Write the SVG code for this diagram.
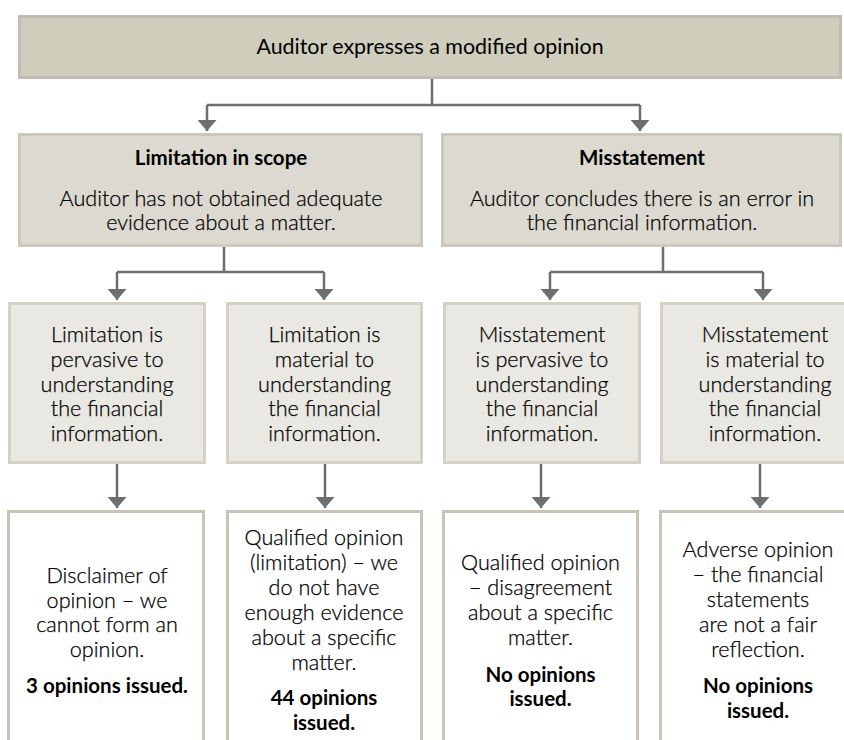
<svg xmlns="http://www.w3.org/2000/svg" width="844" height="740" viewBox="0 0 844 740">
<defs>
<marker id="ah" markerWidth="19" markerHeight="11" refX="9.5" refY="11" orient="0" markerUnits="userSpaceOnUse" viewBox="0 0 19 11">
<path d="M0,0 L19,0 L9.5,11 Z" fill="#6d6e71"/>
</marker>
<style>
.t{font-family:Lato,"Open Sans","Liberation Sans",sans-serif;font-size:21.6px;font-weight:300;fill:#000000;stroke:#000000;stroke-width:0.25;text-anchor:middle}
.b{font-weight:700;font-size:20.5px;stroke:none}
.h{font-weight:400;font-size:21.4px;stroke:none}
.top{fill:#cfcdbc;stroke:#c4bcb2;stroke-width:3}
.l2{fill:#dcdad0;stroke:#cec7bc;stroke-width:3}
.l3{fill:#e9e8e2;stroke:#d7d0c6;stroke-width:3}
.l4{fill:#ffffff;stroke:#cac2b7;stroke-width:3}
.c{fill:none;stroke:#6d6e71;stroke-width:2.5}
</style>
</defs>
<rect width="844" height="740" fill="#ffffff"/>
<g id="connectors">
<path class="c" d="M432,79 V105 M207,105 H640"/>
<path class="c" d="M207,105 V131" marker-end="url(#ah)"/>
<path class="c" d="M640,105 V131" marker-end="url(#ah)"/>
<path class="c" d="M224,247 V272 M117,272 H324"/>
<path class="c" d="M117,272 V300" marker-end="url(#ah)"/>
<path class="c" d="M324,272 V300" marker-end="url(#ah)"/>
<path class="c" d="M663,247 V272 M550,272 H763"/>
<path class="c" d="M550,272 V300" marker-end="url(#ah)"/>
<path class="c" d="M763,272 V300" marker-end="url(#ah)"/>
<path class="c" d="M117,464 V508" marker-end="url(#ah)"/>
<path class="c" d="M325,464 V508" marker-end="url(#ah)"/>
<path class="c" d="M541,464 V508" marker-end="url(#ah)"/>
<path class="c" d="M760,464 V508" marker-end="url(#ah)"/>
</g>
<g id="n-modified">
<rect class="top" x="19.5" y="16.5" width="821" height="61"/>
<text class="t h" x="430" y="54">Auditor expresses a modified opinion</text>
</g>
<g id="n-limitation">
<rect class="l2" x="19.5" y="134.5" width="402" height="111"/>
<text class="t b" x="221" y="165">Limitation in scope</text>
<text class="t" x="221" y="206">Auditor has not obtained adequate</text>
<text class="t" x="221" y="230">evidence about a matter.</text>
</g>
<g id="n-misstatement">
<rect class="l2" x="442.5" y="134.5" width="398" height="111"/>
<text class="t b" x="642" y="165">Misstatement</text>
<text class="t" x="642" y="206">Auditor concludes there is an error in</text>
<text class="t" x="642" y="230">the financial information.</text>
</g>
<g id="n-lim-pervasive">
<rect class="l3" x="9.5" y="303.5" width="195" height="159"/>
<text class="t" x="107" y="342">Limitation is</text>
<text class="t" x="107" y="367">pervasive to</text>
<text class="t" x="107" y="392">understanding</text>
<text class="t" x="107" y="416">the financial</text>
<text class="t" x="107" y="441">information.</text>
</g>
<g id="n-lim-material">
<rect class="l3" x="227.5" y="303.5" width="194" height="159"/>
<text class="t" x="324.5" y="342">Limitation is</text>
<text class="t" x="324.5" y="367">material to</text>
<text class="t" x="324.5" y="392">understanding</text>
<text class="t" x="324.5" y="416">the financial</text>
<text class="t" x="324.5" y="441">information.</text>
</g>
<g id="n-mis-pervasive">
<rect class="l3" x="444.5" y="303.5" width="195" height="159"/>
<text class="t" x="542" y="342">Misstatement</text>
<text class="t" x="542" y="367">is pervasive to</text>
<text class="t" x="542" y="392">understanding</text>
<text class="t" x="542" y="416">the financial</text>
<text class="t" x="542" y="441">information.</text>
</g>
<g id="n-mis-material">
<rect class="l3" x="661.5" y="303.5" width="207" height="159"/>
<text class="t" x="765" y="342">Misstatement</text>
<text class="t" x="765" y="367">is material to</text>
<text class="t" x="765" y="392">understanding</text>
<text class="t" x="765" y="416">the financial</text>
<text class="t" x="765" y="441">information.</text>
</g>
<g id="n-disclaimer">
<rect class="l4" x="8.5" y="511.5" width="195" height="250"/>
<text class="t" x="107" y="583">Disclaimer of</text>
<text class="t" x="107" y="608">opinion – we</text>
<text class="t" x="107" y="632">cannot form an</text>
<text class="t" x="107" y="657">opinion.</text>
<text class="t b" x="107" y="693">3 opinions issued.</text>
</g>
<g id="n-qualified-lim">
<rect class="l4" x="227.5" y="511.5" width="194" height="250"/>
<text class="t" x="324" y="545">Qualified opinion</text>
<text class="t" x="324" y="570">(limitation) – we</text>
<text class="t" x="324" y="595">do not have</text>
<text class="t" x="324" y="620">enough evidence</text>
<text class="t" x="324" y="645">about a specific</text>
<text class="t" x="324" y="670">matter.</text>
<text class="t b" x="324" y="705">44 opinions</text>
<text class="t b" x="324" y="730">issued.</text>
</g>
<g id="n-qualified-dis">
<rect class="l4" x="443.5" y="511.5" width="194" height="250"/>
<text class="t" x="540.5" y="570">Qualified opinion</text>
<text class="t" x="540.5" y="595">– disagreement</text>
<text class="t" x="540.5" y="620">about a specific</text>
<text class="t" x="540.5" y="645">matter.</text>
<text class="t b" x="540.5" y="682">No opinions</text>
<text class="t b" x="540.5" y="706">issued.</text>
</g>
<g id="n-adverse">
<rect class="l4" x="660.5" y="511.5" width="197" height="250"/>
<text class="t" x="758" y="557">Adverse opinion</text>
<text class="t" x="758" y="582">– the financial</text>
<text class="t" x="758" y="607">statements</text>
<text class="t" x="758" y="632">are not a fair</text>
<text class="t" x="758" y="657">reflection.</text>
<text class="t b" x="758" y="693">No opinions</text>
<text class="t b" x="758" y="718">issued.</text>
</g>
</svg>
